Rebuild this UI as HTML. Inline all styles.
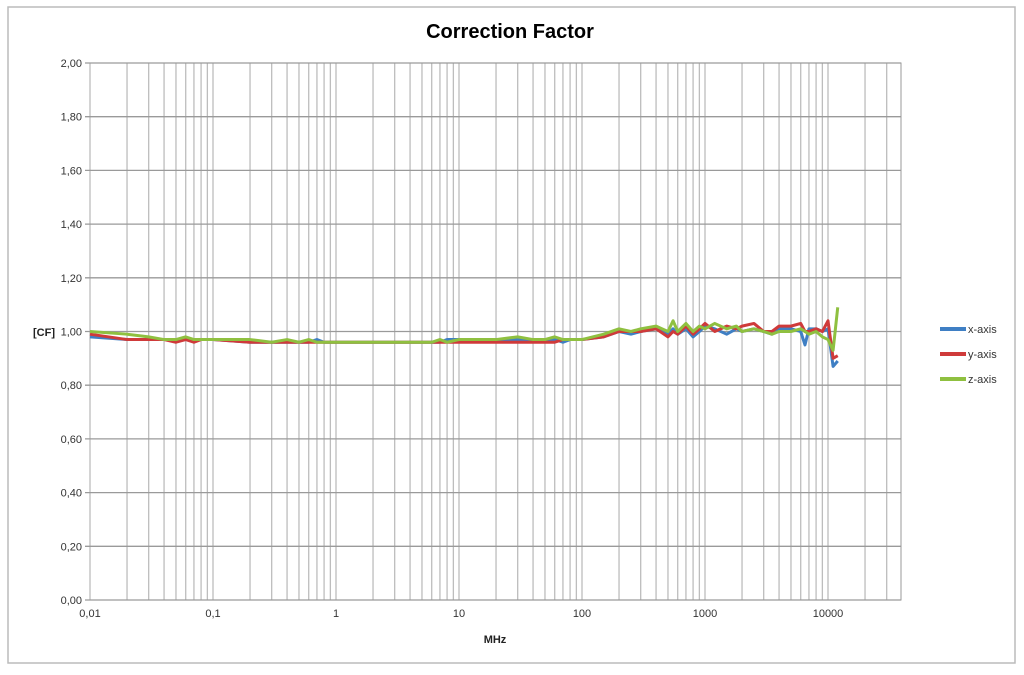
<!DOCTYPE html>
<html><head><meta charset="utf-8"><style>
body{margin:0;background:#fff;width:1024px;height:670px;overflow:hidden;font-family:"Liberation Sans",sans-serif}
</style></head><body>
<svg id="c" width="1024" height="670" xmlns="http://www.w3.org/2000/svg">
<rect x="8" y="7" width="1007" height="656" fill="#fff" stroke="#bbb" stroke-width="1.5"/>
<text x="510" y="38" text-anchor="middle" font-size="20" font-weight="bold" fill="#000">Correction Factor</text>
<text x="33" y="336" font-size="11" font-weight="bold" fill="#222">[CF]</text>
<text x="495" y="643" text-anchor="middle" font-size="11" font-weight="bold" fill="#222">MHz</text>
<g id="grid"></g><g id="series"></g><g id="legend"></g>
</svg>
<script>
const freqs=[0.01,0.02,0.03,0.04,0.05,0.06,0.07,0.08,0.1,0.2,0.3,0.4,0.5,0.6,0.7,0.8,1,2,3,4,5,6,7,8,10,20,30,40,50,60,70,80,100,150,200,250,300,400,500,550,600,700,800,900,1000,1200,1500,1800,2000,2500,3000,3500,4000,5000,6000,6500,7000,8000,9000,10000,11000,12000];
const xAxis=[0.98,0.97,0.97,0.97,0.97,0.97,0.97,0.97,0.97,0.96,0.96,0.96,0.96,0.96,0.97,0.96,0.96,0.96,0.96,0.96,0.96,0.96,0.96,0.97,0.97,0.97,0.97,0.97,0.97,0.97,0.96,0.97,0.97,0.98,1.00,0.99,1.00,1.01,0.99,1.01,0.99,1.01,0.98,1.00,1.02,1.01,0.99,1.01,1.00,1.01,1.00,0.99,1.01,1.01,1.00,0.95,1.01,1.01,1.00,1.01,0.87,0.89];
const yAxis=[0.99,0.97,0.97,0.97,0.96,0.97,0.96,0.97,0.97,0.96,0.96,0.96,0.96,0.96,0.96,0.96,0.96,0.96,0.96,0.96,0.96,0.96,0.96,0.96,0.96,0.96,0.96,0.96,0.96,0.96,0.97,0.97,0.97,0.98,1.00,1.00,1.00,1.01,0.98,1.00,0.99,1.02,0.99,1.01,1.03,1.00,1.02,1.01,1.02,1.03,1.00,1.00,1.02,1.02,1.03,1.00,1.00,1.01,1.00,1.04,0.90,0.91];
const zAxis=[1.00,0.99,0.98,0.97,0.97,0.98,0.97,0.97,0.97,0.97,0.96,0.97,0.96,0.97,0.96,0.96,0.96,0.96,0.96,0.96,0.96,0.96,0.97,0.96,0.97,0.97,0.98,0.97,0.97,0.98,0.97,0.97,0.97,0.99,1.01,1.00,1.01,1.02,1.00,1.04,1.00,1.03,1.00,1.02,1.01,1.03,1.01,1.02,1.00,1.01,1.00,0.99,1.00,1.00,1.01,1.00,0.99,1.00,0.98,0.97,0.93,1.09];
const yTicks=[0,0.2,0.4,0.6,0.8,1.0,1.2,1.4,1.6,1.8,2.0];
const xTickLabels=["0,01","0,1","1","10","100","1000","10000"];
const NS="http://www.w3.org/2000/svg";
const L=90,R=901,T=63,B=600,DEC=123;
const X=f=>L+(Math.log10(f)+2)*DEC;
const Y=v=>B-v/2*(B-T);
function mk(t,a,p){const e=document.createElementNS(NS,t);for(const k in a)e.setAttribute(k,a[k]);p.appendChild(e);return e;}
const g=document.getElementById('grid');
mk('rect',{x:L,y:T,width:R-L,height:B-T,fill:'none',stroke:'#999'},g);
for(let d=-2;d<=4;d++){for(let m=1;m<10;m++){const f=m*Math.pow(10,d);const x=X(f);if(x>R)break;
const l=mk('line',{x1:x,x2:x,y1:T,y2:B,stroke:'#bdbdbd','stroke-width':1.3},g);

}}
yTicks.forEach(v=>{const y=Y(v);
const l=mk('line',{x1:L-5,x2:R,y1:y,y2:y,stroke:'#9a9a9a','stroke-width':1.3},g);


const t=mk('text',{x:L-8,y:y+4,'text-anchor':'end','font-size':11,fill:'#333'},g);t.textContent=v.toFixed(2).replace('.',',');

});
xTickLabels.forEach((s,i)=>{const x=L+i*DEC;
const t=mk('text',{x:x,y:B+17,'text-anchor':'middle','font-size':11,fill:'#333'},g);t.textContent=s;

});
const S=document.getElementById('series');
const series=[["x-axis",xAxis,"#3f7fc4"],["y-axis",yAxis,"#cf3a3a"],["z-axis",zAxis,"#8fc040"]];
const lg=document.getElementById('legend');
series.forEach(([n,vals,c],i)=>{
const p=mk('polyline',{points:vals.map((v,j)=>X(freqs[j])+','+Y(v)).join(' '),fill:'none',stroke:c,'stroke-width':3,'stroke-linejoin':'round'},S);


const y=329+i*25;
const ln=mk('line',{x1:940,x2:966,y1:y,y2:y,stroke:c,'stroke-width':4},lg);


const t=mk('text',{x:968,y:y+4,'font-size':11,fill:'#333'},lg);t.textContent=n;

});
</script>
</body></html>
